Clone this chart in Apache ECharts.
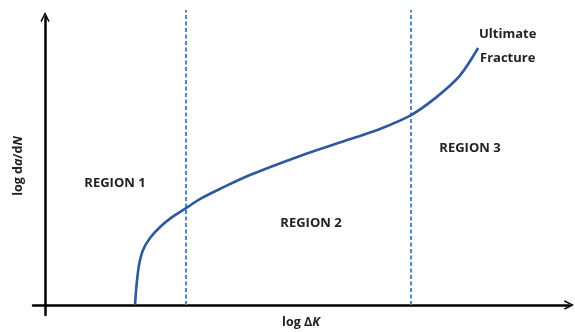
<!DOCTYPE html>
<html>
<head>
<meta charset="utf-8">
<script src="https://cdn.jsdelivr.net/npm/echarts@6/dist/echarts.min.js"></script>
<style>html,body{margin:0;padding:0;background:#fff}#c{width:575px;height:332px}</style>
</head>
<body>
<div id="c"></div>
<script>
// Crack growth curve (schematic), x = log ΔK, y = log da/dN (arbitrary units 0-100)
const curveX = [17.05, 17.33, 17.8, 18.56, 19.89, 21.78, 24.05, 26.7, 29.4, 33.1, 38.8, 48.3, 57.8, 63.4, 69.3, 74.0, 78.5, 82.0];
const curveY = [0, 6.9, 13.8, 19.0, 23.1, 26.9, 30.3, 33.4, 36.6, 40.0, 44.8, 51.4, 57.2, 60.7, 65.5, 71.5, 79.0, 88.6];
// region boundaries (x positions of dashed lines)
const boundaries = [26.7, 69.3];
const boundaryTop = 101.7;
const regionLabels = ['REGION 1', 'REGION 2', 'REGION 3'];
const fractureLabel = ['Ultimate', 'Fracture'];

const chart = echarts.init(document.getElementById('c'));
const FONT = '"Open Sans", "Liberation Sans", sans-serif';
const arrowPath = 'path://M0,10 L5,0 L10,10 L8.6,10.8 L5,3.2 L1.4,10.8 Z';

const series = [{
  type: 'line',
  data: curveX.map((x, i) => [x, curveY[i]]),
  smooth: 0.3,
  symbol: 'none',
  lineStyle: { color: '#2d5a9c', width: 2.6 },
  z: 5
}];
boundaries.forEach(b => {
  series.push({
    type: 'line',
    data: [[b, 0], [b, boundaryTop]],
    symbol: 'none',
    clip: false,
    lineStyle: { color: '#4a84c6', width: 2, type: [4, 2.5] },
    z: 3
  });
});

const rich = {
  n: { fontFamily: FONT, fontWeight: 'bold', fontSize: 12.5, color: '#222' },
  i: { fontFamily: FONT, fontWeight: 'bold', fontStyle: 'italic', fontSize: 12.5, color: '#222' }
};

chart.setOption({
  animation: false,
  grid: { left: 33, right: 6, top: 17, bottom: 17, outerBoundsMode: 'none', containLabel: false },
  xAxis: {
    type: 'value', min: -2.2727, max: 99.2,
    splitLine: { show: false }, axisTick: { show: false }, axisLabel: { show: false },
    axisLine: { onZero: true, lineStyle: { color: '#000', width: 2.5 }, symbol: ['none', arrowPath], symbolSize: [12, 10] },
    name: '{n|log Δ}{i|K}', nameLocation: 'middle', nameGap: 1,
    nameTextStyle: { rich: rich }
  },
  yAxis: {
    type: 'value', min: -3.448, max: 99.3,
    splitLine: { show: false }, axisTick: { show: false }, axisLabel: { show: false },
    axisLine: { onZero: true, lineStyle: { color: '#000', width: 2.5 }, symbol: ['none', arrowPath], symbolSize: [12, 10] },
    name: '{n|log d}{i|a}{n|/d}{i|N}', nameLocation: 'middle', nameGap: 8,
    nameTextStyle: { rich: rich, padding: [0, 0, 0, 0] }
  },
  graphic: [
    { type: 'text', x: 115, y: 183, style: { text: regionLabels[0], font: 'bold 13px ' + FONT, fill: '#222', align: 'center', verticalAlign: 'middle' } },
    { type: 'text', x: 311, y: 223, style: { text: regionLabels[1], font: 'bold 13px ' + FONT, fill: '#222', align: 'center', verticalAlign: 'middle' } },
    { type: 'text', x: 470, y: 148, style: { text: regionLabels[2], font: 'bold 13px ' + FONT, fill: '#222', align: 'center', verticalAlign: 'middle' } },
    { type: 'text', x: 479, y: 34, style: { text: fractureLabel[0], font: 'bold 13px ' + FONT, fill: '#222', align: 'left', verticalAlign: 'middle' } },
    { type: 'text', x: 480, y: 58, style: { text: fractureLabel[1], font: 'bold 13px ' + FONT, fill: '#222', align: 'left', verticalAlign: 'middle' } }
  ],
  series: series
});
</script>
</body>
</html>
